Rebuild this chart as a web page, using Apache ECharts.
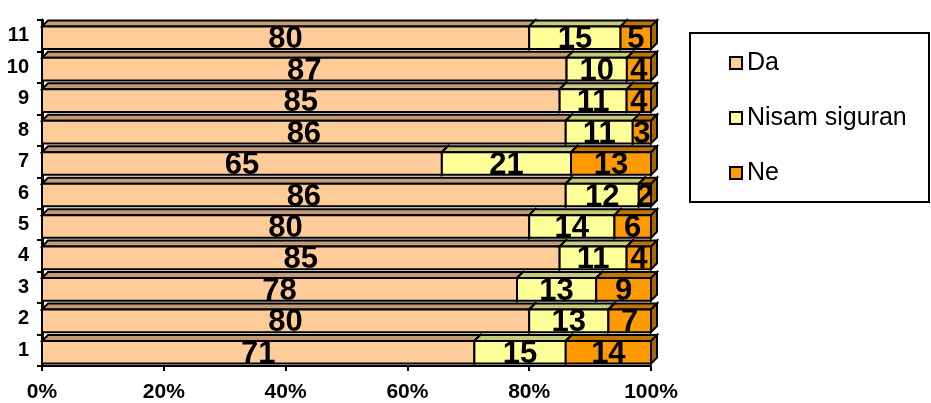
<!DOCTYPE html>
<html><head><meta charset="utf-8">
<script src="https://cdn.jsdelivr.net/npm/echarts@6/dist/echarts.min.js"></script>
<style>html,body{margin:0;padding:0;background:#fff}#c{width:931px;height:403px}</style>
</head><body><div id="c"></div>
<script>
var categories = ['1','2','3','4','5','6','7','8','9','10','11'];
var seriesNames = ['Da','Nisam siguran','Ne'];
var da =    [71,80,78,85,80,86,65,86,85,87,80];
var nisam = [15,13,13,11,14,12,21,11,11,10,15];
var ne =    [14, 7, 9, 4, 6, 2,13, 3, 4, 4, 5];
var xTicks = [0,20,40,60,80,100];

var raw = [da, nisam, ne];
var front = ['#FFCC99','#FFFF99','#FF9900'];
var topC = ['#C49B74','#C9C97A','#C27400'];
var sideC = ['#B08A66','#B3B36B','#A86500'];
var FONT = '"Liberation Sans", Arial, sans-serif';

function buildData(s){
  var out = [];
  for (var i=0;i<categories.length;i++){
    var tot = da[i]+nisam[i]+ne[i];
    var start = 0;
    for (var k=0;k<s;k++) start += raw[k][i];
    out.push([i, start/tot*100, (start+raw[s][i])/tot*100, raw[s][i]]);
  }
  return out;
}

function makeRender(s){
  return function(params, api){
    var ci = api.value(0);
    var p0 = api.coord([api.value(1), ci]);
    var p1 = api.coord([api.value(2), ci]);
    var band = api.size([0,1])[1];
    var h = band*0.72;
    var d = 6;
    var top = p0[1] - h/2 + 2;
    var bot = top + h;
    var x0 = p0[0], x1 = p1[0];
    var ls = {stroke:'#000', lineWidth:2, lineJoin:'miter'};
    return {type:'group', children:[
      {type:'polygon', shape:{points:[[x0,top],[x0+d,top-d],[x1+d,top-d],[x1,top]]}, style:Object.assign({fill:topC[s]}, ls)},
      {type:'polygon', shape:{points:[[x1,top],[x1+d,top-d],[x1+d,bot-d],[x1,bot]]}, style:Object.assign({fill:sideC[s]}, ls)},
      {type:'rect', shape:{x:x0, y:top, width:x1-x0, height:h}, style:Object.assign({fill:front[s]}, ls)},
      {type:'text', z2:10, style:{text:String(api.value(3)), x:(x0+x1)/2, y:(top+bot)/2+2, align:'center', verticalAlign:'middle', font:'bold 31px ' + FONT, fill:'#000'}}
    ]};
  };
}

var series = seriesNames.map(function(n, s){
  return {type:'custom', name:n, renderItem:makeRender(s), data:buildData(s),
    itemStyle:{color:front[s], borderColor:'#000', borderWidth:1.5},
    encode:{x:[1,2], y:0}, z:2+s, animation:false};
});

var chart = echarts.init(document.getElementById('c'));
chart.setOption({
  animation:false,
  grid:{left:42, right:280, top:20, bottom:36},
  xAxis:{type:'value', min:0, max:100, interval:20,
    axisLine:{show:true, lineStyle:{color:'#000', width:2}},
    axisTick:{show:true, length:5, lineStyle:{color:'#000', width:2}},
    splitLine:{show:false},
    axisLabel:{formatter:function(v){return xTicks.indexOf(v)>=0 ? v+'%' : '';}, color:'#000', fontWeight:'bold', fontSize:21, fontFamily:FONT, margin:16}},
  yAxis:{type:'category', data:categories,
    axisLine:{show:true, lineStyle:{color:'#000', width:3}},
    axisTick:{show:true, length:5, lineStyle:{color:'#000', width:2}},
    axisLabel:{color:'#000', fontWeight:'bold', fontSize:20, fontFamily:FONT, margin:13, padding:[8,0,0,0]}},
  legend:{orient:'vertical', left:729, top:50, padding:0, itemWidth:12, itemHeight:12, itemGap:29,
    icon:'rect', data:seriesNames,
    textStyle:{fontSize:25, lineHeight:26, color:'#000', fontFamily:FONT}},
  graphic:[{type:'rect', z:-1, shape:{x:690, y:33, width:239, height:169}, style:{fill:'#fff', stroke:'#000', lineWidth:2}}],
  series:series
});
</script></body></html>
